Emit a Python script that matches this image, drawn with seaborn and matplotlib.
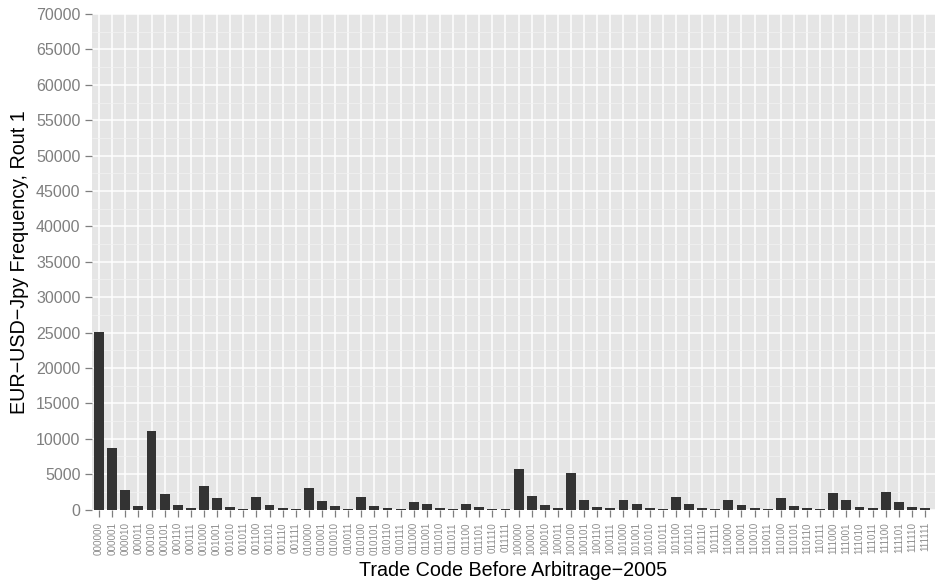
import matplotlib
matplotlib.use("Agg")
import matplotlib.pyplot as plt
from matplotlib.ticker import MultipleLocator
import numpy as np
import pandas as pd
import seaborn as sns

# Six-bit trade codes and how often each occurred
codes = [format(i, "06b") for i in range(64)]
counts = [
    25100, 8680, 2740, 470, 11080, 2170, 610, 190,
    3300, 1600, 330, 90, 1750, 610, 190, 90,
    3020, 1230, 470, 90, 1750, 470, 240, 90,
    1040, 750, 240, 90, 750, 380, 90, 90,
    5710, 1890, 610, 240, 5140, 1320, 380, 240,
    1320, 750, 240, 90, 1750, 750, 240, 90,
    1320, 610, 240, 90, 1600, 470, 240, 90,
    2310, 1320, 330, 240, 2450, 1040, 330, 240,
]
y_ticks = list(range(0, 70001, 5000))

df = pd.DataFrame({"code": codes, "count": counts})

sns.set_style("white")
plt.rcParams["font.family"] = ["Liberation Sans", "DejaVu Sans"]

fig = plt.figure(figsize=(9.35, 5.85), dpi=100)
ax = fig.add_axes([0.0981, 0.129, 0.9019, 0.847])

sns.barplot(data=df, x="code", y="count", color="#333333", saturation=1,
            width=0.76, edgecolor="none", linewidth=0, ax=ax, zorder=3)

ax.set_facecolor("#E5E5E5")
ax.set_ylim(0, 70000)
ax.set_xlim(-0.56, 63.76)
ax.set_yticks(y_ticks)
ax.set_yticklabels([str(v) for v in y_ticks])
ax.yaxis.set_minor_locator(MultipleLocator(2500))

ax.grid(which="major", axis="both", color="white", linewidth=1.1, zorder=0)
ax.grid(which="minor", axis="y", color="#F2F2F2", linewidth=0.5, zorder=0)
ax.set_axisbelow(True)

for s in ax.spines.values():
    s.set_visible(False)

ax.tick_params(axis="y", which="major", length=5, width=0.9, color="#7F7F7F",
               labelcolor="#7F7F7F", labelsize=11.5, pad=3, left=True)
ax.tick_params(axis="y", which="minor", length=0)
ax.tick_params(axis="x", which="major", length=5, width=0.9, color="#7F7F7F",
               labelcolor="#8C8C8C", labelsize=7.1, pad=4, bottom=True,
               labelrotation=90)

ax.set_xlabel("Trade Code Before Arbitrage\u22122005", fontsize=14.2,
              color="black", labelpad=4)
ax.set_ylabel("EUR\u2212USD\u2212Jpy Frequency, Rout 1", fontsize=14.2,
              color="black", labelpad=5)

fig.savefig("out.png", dpi=100)
